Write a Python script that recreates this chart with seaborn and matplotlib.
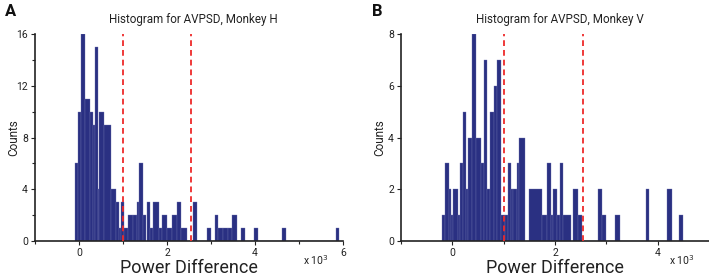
import numpy as np
import pandas as pd
import matplotlib
matplotlib.use("Agg")
import matplotlib.pyplot as plt
import seaborn as sns

# ---- data (x in units of 10^3) ----
edges_H = [-0.08, -0.02, 0.05, 0.145, 0.25, 0.31, 0.36, 0.435, 0.465, 0.57, 0.725,
           0.83, 0.92, 0.95, 1.03, 1.11, 1.23, 1.32, 1.36, 1.45, 1.515, 1.545, 1.62,
           1.68, 1.81, 1.89, 1.99, 2.12, 2.23, 2.32, 2.46, 2.60, 2.69, 2.90, 2.99,
           3.08, 3.17, 3.27, 3.38, 3.48, 3.58, 3.68, 3.77, 3.97, 4.06, 4.62, 4.71,
           5.84, 5.91]
counts_H = [6, 10, 16, 11, 10, 9, 15, 4, 10, 9,
            4, 3, 1, 3, 1, 2, 2, 3, 6, 2,
            0, 3, 1, 3, 1, 2, 1, 2, 3, 1,
            0, 3, 0, 1, 0, 2, 1, 1, 1, 2,
            0, 1, 0, 1, 0, 1, 0, 1]

edges_V = [-0.194, -0.136, -0.071, -0.019, 0.019, 0.110, 0.142, 0.213, 0.265, 0.304,
           0.38, 0.459, 0.549, 0.614, 0.678, 0.73, 0.81, 0.872, 0.95, 1.03, 1.08,
           1.14, 1.18, 1.25, 1.30, 1.42, 1.49, 1.74, 1.85, 1.92, 1.96, 2.03, 2.09,
           2.16, 2.31, 2.35, 2.44, 2.53, 2.835, 2.91, 3.0, 3.17, 3.275, 3.77, 3.84,
           4.19, 4.27, 4.42, 4.50]
counts_V = [1, 3, 2, 1, 2, 1, 3, 5, 2, 4,
            8, 4, 3, 7, 2, 5, 6, 7, 1, 1,
            3, 2, 2, 3, 4, 0, 2, 1, 3, 1,
            2, 1, 3, 1, 0, 2, 1, 0, 2, 1,
            0, 1, 0, 2, 0, 2, 0, 1]

thresholds = [1.0, 2.55]
titles = ["Histogram for AVPSD, Monkey H", "Histogram for AVPSD, Monkey V"]
panel_letters = ["A", "B"]
xlims = [(-1, 6), (-1, 5)]
ylims = [16, 8]
ymajor = [[0, 4, 8, 12, 16], [0, 2, 4, 6, 8]]
yminor = [[2, 6, 10, 14], []]
xmajor = [[0, 2, 4, 6], [0, 2, 4]]
xminor = [[-1, 1, 3, 5], [-1, 1, 3]]

# ---- style ----
sns.set_style("ticks")
plt.rcParams["font.family"] = ["Roboto", "DejaVu Sans"]
BAR = "#2a3082"
EDGE = "#6d72b0"
RED = "#ee2a2a"

fig = plt.figure(figsize=(7.09, 2.80), dpi=100)
W, H = 709, 280
axes_px = [(35, 343), (401, 709)]
top_px, bot_px = 34, 241

datasets = [(edges_H, counts_H), (edges_V, counts_V)]
for i, (edges, counts) in enumerate(datasets):
    l, r = axes_px[i]
    ax = fig.add_axes([l / W, 1 - bot_px / H, (r - l) / W, (bot_px - top_px) / H])
    e = np.asarray(edges, dtype=float)
    df = pd.DataFrame({"x": (e[:-1] + e[1:]) / 2, "n": np.asarray(counts, dtype=float)})
    sns.histplot(data=df, x="x", weights="n", bins=list(e), ax=ax, color=BAR,
                 edgecolor=EDGE, linewidth=0.25, alpha=1, stat="count")
    for t in thresholds:
        ax.axvline(t, color=RED, lw=1.3, ls=(0, (3.2, 2.2)), zorder=3)
    ax.set_xlim(*xlims[i])
    ax.set_ylim(0, ylims[i])
    ax.set_xticks(xmajor[i])
    ax.set_xticks(xminor[i], minor=True)
    ax.set_yticks(ymajor[i])
    ax.set_yticks(yminor[i], minor=True)
    ax.set_xticklabels([str(v) for v in xmajor[i]])
    ax.set_ylabel("")
    ax.set_xlabel("")
    ax.tick_params(axis="both", which="both", direction="out", width=0.8,
                   labelsize=7.5, colors="#222222", pad=2)
    ax.tick_params(which="major", length=3)
    ax.tick_params(which="minor", length=2.5)
    sns.despine(ax=ax)
    for s in ("left", "bottom"):
        ax.spines[s].set_linewidth(1.2)
        ax.spines[s].set_color("#222222")
    cx = (l + r) / 2
    fig.text((l + 0.515 * (r - l)) / W, 1 - 19 / H, titles[i], ha="center",
             va="center", fontsize=8.4, color="#222222")
    fig.text(cx / W, 1 - 268 / H, "Power Difference", ha="center", va="center",
             fontsize=13, color="#222222")
    fig.text((l - 21) / W, 1 - 138 / H, "Counts", rotation=90, ha="center",
             va="center", fontsize=8.5, color="#222222")
    fig.text((r - 27) / W, 1 - 260 / H, r"x 10$^{3}$", ha="center", va="center",
             fontsize=7.5, color="#222222")
    fig.text((l - 24) / W, 1 - 11 / H, panel_letters[i], ha="center", va="center",
             fontsize=12, fontweight="bold", color="#111111")

fig.savefig("out.png", dpi=100)
